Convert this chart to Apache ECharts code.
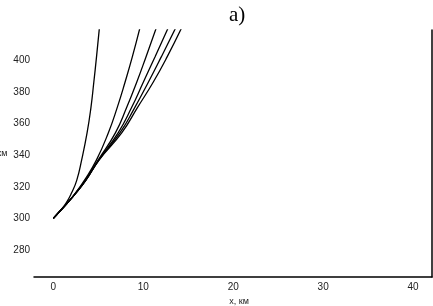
<!DOCTYPE html>
<html>
<head>
<meta charset="utf-8">
<script src="https://cdn.jsdelivr.net/npm/echarts@6/dist/echarts.min.js"></script>
<style>
  html, body { margin: 0; padding: 0; background: #fff; }
  #chart { width: 433px; height: 306px; }
</style>
</head>
<body>
<div id="chart"></div>
<script>
// heights (y values) shared by every curve, and the x (km) of each curve at those heights
const heights = [300, 305, 310, 316, 324, 337, 354, 370, 386, 402, 422]
const curve1 = [0, 0.78, 1.45, 2.02, 2.6, 3.15, 3.75, 4.18, 4.5, 4.8, 5.15]
const curve2 = [0, 0.8, 1.6, 2.45, 3.45, 4.8, 6.11, 7.1, 7.97, 8.78, 9.7]
const curve3 = [0, 0.8, 1.6, 2.5, 3.55, 5.0, 6.9, 8.15, 9.27, 10.3, 11.55]
const curve4 = [0, 0.8, 1.6, 2.5, 3.6, 5.05, 7.2, 8.7, 10.0, 11.3, 12.9]
const curve5 = [0, 0.8, 1.6, 2.5, 3.6, 5.08, 7.4, 9.05, 10.56, 12.0, 13.75]
const curve6 = [0, 0.8, 1.6, 2.5, 3.6, 5.1, 7.6, 9.35, 11.1, 12.65, 14.4]
const curves = [curve1, curve2, curve3, curve4, curve5, curve6]

const xTicks = [0, 10, 20, 30, 40]
const yTicks = [280, 300, 320, 340, 360, 380, 400]

const chart = echarts.init(document.getElementById('chart'))

const option = {
  animation: false,
  title: {
    text: 'a)',
    left: 224,
    top: 0,
    textStyle: {
      fontFamily: 'Liberation Serif',
      fontSize: 21,
      fontWeight: 'normal',
      color: '#000'
    }
  },
  grid: {
    left: 34,
    right: 1,
    top: 30,
    bottom: 29,
    containLabel: false,
    outerBoundsMode: 'none'
  },
  xAxis: {
    type: 'value',
    min: -2.15,
    max: 42.1,
    name: 'x, км',
    nameLocation: 'middle',
    nameGap: 19,
    nameTextStyle: {
      fontFamily: 'Liberation Sans',
      fontSize: 9,
      color: '#222',
      padding: [0, 0, 0, 12]
    },
    axisLine: { lineStyle: { color: '#000', width: 1.5 } },
    axisTick: { show: false },
    splitLine: { show: false },
    axisLabel: {
      customValues: xTicks,
      fontFamily: 'Liberation Sans',
      fontSize: 10,
      color: '#222',
      margin: 5
    }
  },
  yAxis: [
    {
      type: 'value',
      min: 263,
      max: 419,
      name: 'z, км',
      nameLocation: 'middle',
      nameRotate: 0,
      nameGap: 24,
      nameTextStyle: {
        fontFamily: 'Liberation Sans',
        fontSize: 9,
        color: '#222',
        align: 'right'
      },
      axisLine: { show: false },
      axisTick: { show: false },
      splitLine: { show: false },
      axisLabel: {
        customValues: yTicks,
        fontFamily: 'Liberation Sans',
        fontSize: 10,
        color: '#222',
        margin: 4
      }
    },
    {
      type: 'value',
      position: 'right',
      min: 263,
      max: 419,
      axisLine: { show: true, lineStyle: { color: '#000', width: 1.5 } },
      axisTick: { show: false },
      axisLabel: { show: false },
      splitLine: { show: false }
    }
  ],
  series: curves.map(function (xs, i) {
    return {
      name: 'curve' + (i + 1),
      type: 'line',
      smooth: true,
      symbol: 'none',
      clip: true,
      data: xs.map(function (x, j) { return [x, heights[j]] }),
      lineStyle: { color: '#000', width: 1.3 }
    }
  })
}

chart.setOption(option)
</script>
</body>
</html>
